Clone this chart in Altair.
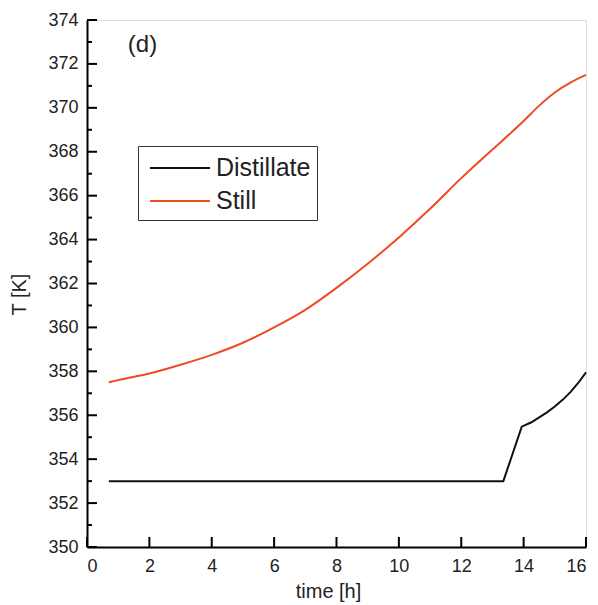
import altair as alt
import pandas as pd

still_t = [0.7, 1, 2, 3, 4, 5, 6, 7, 8, 9, 10, 11, 12, 13, 14, 14.5, 15, 15.5, 16]
still_T = [357.5, 357.6, 357.9, 358.3, 358.75, 359.3, 360.0, 360.8, 361.8, 362.9, 364.1, 365.4, 366.8, 368.1, 369.4, 370.1, 370.7, 371.15, 371.5]
dist_t = [0.7, 13.35, 13.94, 14.25, 14.5, 14.75, 15, 15.25, 15.5, 15.75, 16]
dist_T = [353.0, 353.0, 355.48, 355.68, 355.9, 356.13, 356.4, 356.7, 357.05, 357.47, 357.95]

x_major = [0, 2, 4, 6, 8, 10, 12, 14, 16]
y_major = [350, 352, 354, 356, 358, 360, 362, 364, 366, 368, 370, 372, 374]
y_minor = [351, 353, 355, 357, 359, 361, 363, 365, 367, 369, 371, 373]

df_d = pd.DataFrame({"time": dist_t, "T": dist_T, "series": "Distillate"})
df_s = pd.DataFrame({"time": still_t, "T": still_T, "series": "Still"})

W, H = 499, 527
FONT = "Liberation Sans"
TXT = "#222222"

xs = alt.Scale(domain=[0, 16], nice=False, zero=False)
ys = alt.Scale(domain=[350, 374], nice=False, zero=False)
cs = alt.Scale(domain=["Distillate", "Still"], range=["#111111", "#f04a22"])

xaxis = alt.Axis(values=x_major, ticks=False, domainColor="black", domainWidth=2,
                 labelFontSize=18, labelColor=TXT, labelPadding=10,
                 titleFontSize=20, titleFontWeight="normal", titleColor=TXT,
                 titleX=241, titleY=50, titleBaseline="alphabetic", grid=False)
yaxis = alt.Axis(values=y_major, ticks=False, domainColor="black", domainWidth=2,
                 labelFontSize=18, labelColor=TXT, labelPadding=9,
                 titleFontSize=20, titleFontWeight="normal", titleColor=TXT,
                 titleX=-62, titleY=274, titleBaseline="alphabetic", grid=False)

legend = alt.Legend(orient="none", legendX=51, legendY=126, symbolType="M-2,0H2",
                    symbolSize=900, symbolStrokeWidth=2, symbolFillColor="transparent",
                    labelFontSize=25, labelColor=TXT, strokeColor="#333333", fillColor="white",
                    padding=6, rowPadding=4, labelOffset=20, symbolOffset=20)

enc = dict(
    x=alt.X("time:Q", scale=xs, title="time [h]", axis=xaxis),
    y=alt.Y("T:Q", scale=ys, title="T [K]", axis=yaxis),
    color=alt.Color("series:N", title=None, scale=cs, legend=legend),
    order="time:Q",
)

dist = alt.Chart(df_d).mark_line(strokeWidth=2, interpolate="linear").encode(**enc)
still = alt.Chart(df_s).mark_line(strokeWidth=2, interpolate="monotone").encode(**enc)

ymaj = alt.Chart(pd.DataFrame({"v": y_major})).mark_rule(color="black", strokeWidth=2).encode(
    y=alt.Y("v:Q", scale=ys), x=alt.value(0), x2=alt.value(10))
ymin = alt.Chart(pd.DataFrame({"v": y_minor})).mark_rule(color="black", strokeWidth=2).encode(
    y=alt.Y("v:Q", scale=ys), x=alt.value(0), x2=alt.value(5))
xmaj = alt.Chart(pd.DataFrame({"v": x_major})).mark_rule(color="black", strokeWidth=2).encode(
    x=alt.X("v:Q", scale=xs), y=alt.value(H), y2=alt.value(H - 10))

label = alt.Chart(pd.DataFrame({"t": ["(d)"], "x": [1.31], "y": [372.86]})).mark_text(
    fontSize=24, align="left", baseline="middle", color=TXT, font=FONT).encode(
    x=alt.X("x:Q", scale=xs), y=alt.Y("y:Q", scale=ys), text="t:N")

chart = alt.layer(dist, still, ymaj, ymin, xmaj, label).properties(
    width=W, height=H,
    autosize=alt.AutoSizeParams(type="none"),
    padding={"left": 87, "top": 20, "right": 12, "bottom": 58},
).configure_view(stroke=None).configure(font=FONT)

chart.save("out.html", embed_options={"renderer": "svg", "actions": False})
